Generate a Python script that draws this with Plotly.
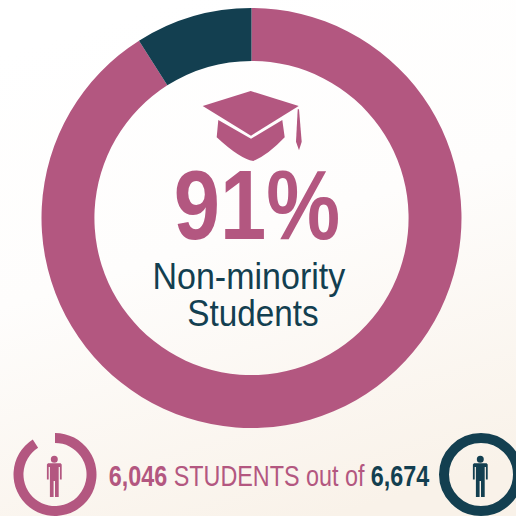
import base64
import plotly.graph_objects as go

SELECTED = 6046
TOTAL = 6674
PERCENT_LABEL = "91%"
GROUP_LINES = ["Non-minority", "Students"]
slice_values = [91, 9]
PINK = "#b35780"
DARK = "#133f50"
SIZE = 516

svg = (
    '<svg xmlns="http://www.w3.org/2000/svg" width="516" height="516">'
    '<defs><linearGradient id="g" x1="0.35" y1="0" x2="0.65" y2="1">'
    '<stop offset="0" stop-color="#ffffff"/><stop offset="0.45" stop-color="#fefdfc"/>'
    '<stop offset="1" stop-color="#f9f2e9"/></linearGradient></defs>'
    '<rect width="516" height="516" fill="url(#g)"/></svg>'
)
bg = "data:image/svg+xml;base64," + base64.b64encode(svg.encode()).decode()


def dom(cx, cy, r):
    return dict(x=[(cx - r) / SIZE, (cx + r) / SIZE], y=[max(0, 1 - (cy + r) / SIZE), 1 - (cy - r) / SIZE])


def donut(cx, cy, r, hole, colors):
    return go.Pie(
        values=slice_values, domain=dom(cx, cy, r), hole=hole, sort=False, direction="clockwise", rotation=0,
        marker=dict(colors=colors, line=dict(width=0)), textinfo="none", hoverinfo="skip", showlegend=False,
    )


def person(cx, color):
    d = " ".join(
        f"{c}{cx + x:.1f},{y:.1f}" if c != "Z" else "Z"
        for c, x, y in [
            ("M", -6.3, 463.3), ("L", 6.3, 463.3), ("L", 7.4, 464.5), ("L", 7.4, 479.5), ("L", 5.6, 479.5),
            ("L", 5.6, 467), ("L", 4.4, 467), ("L", 4.4, 497), ("L", 0.7, 497), ("L", 0.7, 481), ("L", -0.7, 481),
            ("L", -0.7, 497), ("L", -4.4, 497), ("L", -4.4, 467), ("L", -5.6, 467), ("L", -5.6, 479.5),
            ("L", -7.4, 479.5), ("L", -7.4, 464.5),
        ]
    ) + " Z"
    return [
        dict(type="path", path=d, fillcolor=color, line_width=0, xref="x", yref="y"),
        dict(type="circle", x0=cx - 3.5, x1=cx + 3.5, y0=455.8, y1=462.8, fillcolor=color, line_width=0, xref="x", yref="y"),
    ]


cap = [
    "M250.7,91 L298.7,106 L251,135.7 L202.7,106 Z",
    "M218.3,120 L251,138.7 L282.3,120 L284.7,137.3 Q268,155 253.3,161 Q240,159 216.7,137.3 Z",
    "M297.7,109.3 L299,109.3 L301.7,141.7 L299,150.3 L296,141.7 Z",
]
shapes = [dict(type="path", path=p, fillcolor=PINK, line_width=0, xref="x", yref="y") for p in cap]
shapes += person(54.3, PINK) + person(480.3, DARK)
shapes.append(dict(type="circle", x0=444, x1=518, y0=438, y1=511, line=dict(color=DARK, width=10), xref="x", yref="y"))

fig = go.Figure()
fig.add_trace(donut(251.5, 218, 210, 0.748, [PINK, DARK]))
fig.add_trace(donut(55, 474.5, 41.5, 0.76, [PINK, "rgba(0,0,0,0)"]))
fig.add_trace(go.Scatter(x=[0, 516], y=[0, 516], mode="markers", marker=dict(opacity=0), hoverinfo="skip", showlegend=False))

FONT = "Liberation Sans"
fig.update_layout(
    width=SIZE, height=SIZE, margin=dict(l=0, r=0, t=0, b=0), paper_bgcolor="white", plot_bgcolor="rgba(0,0,0,0)",
    xaxis=dict(range=[0, SIZE], visible=False, fixedrange=True),
    yaxis=dict(range=[SIZE, 0], visible=False, fixedrange=True),
    images=[dict(source=bg, xref="paper", yref="paper", x=0, y=1, sizex=1, sizey=1, sizing="stretch", layer="below")],
    shapes=shapes,
    annotations=[
        dict(x=257, y=204, text=f"<b>{PERCENT_LABEL}</b>", showarrow=False, font=dict(family=FONT, size=99, color=PINK)),
        dict(x=248.5, y=276, text=GROUP_LINES[0], showarrow=False, font=dict(family=FONT, size=37, color=DARK)),
        dict(x=252.5, y=313, text=GROUP_LINES[1], showarrow=False, font=dict(family=FONT, size=37, color=DARK)),
        dict(x=268.5, y=476, showarrow=False, font=dict(family=FONT, size=29, color=PINK),
             text=f"<b>{SELECTED:,}</b> STUDENTS out of <span style='color:{DARK}'><b>{TOTAL:,}</b></span>"),
    ],
)
post = """
document.body.style.margin = '0';
var scales = [0.84, 0.92, 0.9, 0.805];
document.querySelectorAll('.annotation-text').forEach(function (e, i) {
  var b = e.getBBox(), c = b.x + b.width / 2, s = scales[i];
  e.setAttribute('transform', 'translate(' + c * (1 - s) + ',0) scale(' + s + ',1)');
});
"""
fig.write_html("out.html", config=dict(displayModeBar=False), post_script=post)
